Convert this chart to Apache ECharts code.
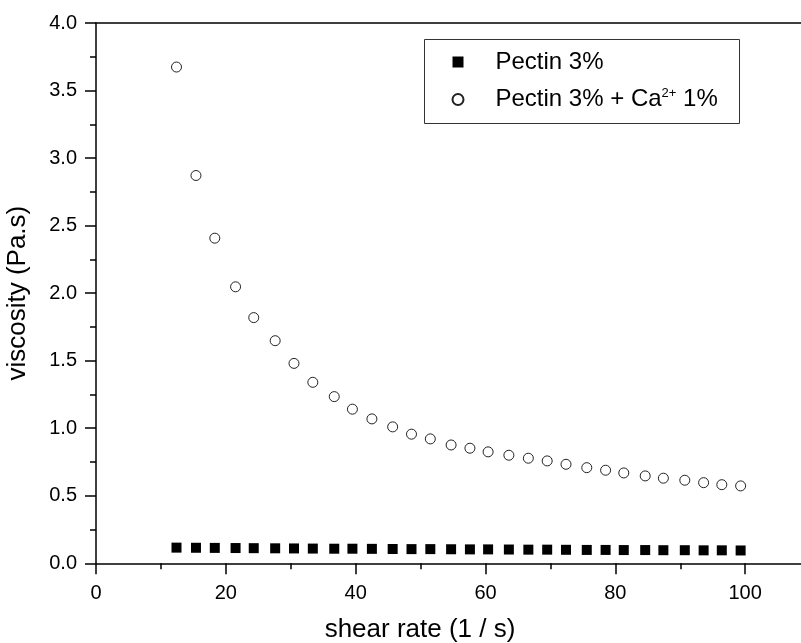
<!DOCTYPE html>
<html>
<head>
<meta charset="utf-8">
<script src="https://cdn.jsdelivr.net/npm/echarts@6/dist/echarts.min.js"></script>
<style>html,body{margin:0;padding:0;background:#fff}#c{width:801px;height:643px}</style>
</head>
<body>
<div id="c"></div>
<script>
var shearRate = [12.4, 15.4, 18.3, 21.5, 24.3, 27.6, 30.5, 33.4, 36.7, 39.5, 42.5, 45.7, 48.6, 51.5, 54.7, 57.6, 60.4, 63.6, 66.6, 69.5, 72.4, 75.6, 78.5, 81.3, 84.6, 87.4, 90.7, 93.6, 96.4, 99.3];
var pectin = [0.116, 0.115, 0.114, 0.113, 0.112, 0.111, 0.110, 0.109, 0.108, 0.108, 0.107, 0.106, 0.105, 0.105, 0.104, 0.103, 0.103, 0.102, 0.101, 0.101, 0.100, 0.099, 0.099, 0.098, 0.098, 0.097, 0.097, 0.096, 0.096, 0.095];
var pectinCa = [3.674, 2.871, 2.407, 2.047, 1.819, 1.648, 1.480, 1.340, 1.234, 1.141, 1.069, 1.010, 0.956, 0.921, 0.876, 0.852, 0.825, 0.800, 0.778, 0.758, 0.733, 0.708, 0.689, 0.669, 0.647, 0.630, 0.615, 0.597, 0.582, 0.573];
var seriesNames = ['Pectin 3%', 'Pectin 3% + Ca2+ 1%'];
var xTicks = [0, 20, 40, 60, 80, 100];
var xMinorTicks = [10, 30, 50, 70, 90];

var font = 'Liberation Sans, Arial, sans-serif';
function pairs(xs, ys) { return xs.map(function (x, i) { return [x, ys[i]]; }); }

var X_MAX = 108.6;
var lineStyle = {color: '#000', width: 1.5};

var chart = echarts.init(document.getElementById('c'), null, {renderer: 'canvas'});
chart.setOption({
  animation: false,
  backgroundColor: '#fff',
  grid: {left: 96, top: 23, right: 0, height: 540.3, containLabel: false, outerBoundsMode: 'none'},
  graphic: [{
    type: 'rect', left: 424, top: 39, z: 5,
    shape: {width: 315, height: 84},
    style: {fill: '#fff', stroke: '#333', lineWidth: 1}
  }],
  legend: {
    left: 446.5, top: 45, orient: 'vertical', itemGap: 13, z: 10,
    itemWidth: 11, itemHeight: 11,
    data: [
      {name: seriesNames[0], icon: 'rect'},
      {name: seriesNames[1], icon: 'circle'}
    ],
    formatter: function (n) {
      if (n === seriesNames[1]) return '{a|Pectin 3% + Ca}{s|2+}{a| 1%}';
      return '{a|' + n + '}';
    },
    textStyle: {
      fontFamily: font, fontSize: 24, color: '#000', padding: [0, 0, 0, 27],
      rich: {
        a: {fontFamily: font, fontSize: 24, lineHeight: 24, color: '#000'},
        s: {fontFamily: font, fontSize: 13, lineHeight: 24, color: '#000', padding: [0, 0, 12, 0]}
      }
    }
  },
  xAxis: [{
    type: 'value', min: 0, max: X_MAX,
    position: 'bottom',
    name: 'shear rate (1 / s)', nameLocation: 'middle', nameGap: 54,
    nameTextStyle: {fontFamily: font, fontSize: 26, color: '#000', padding: [0, 57, 0, 0]},
    axisLine: {show: true, onZero: false, lineStyle: lineStyle},
    axisTick: {show: true, inside: false, length: 11, customValues: xTicks, lineStyle: lineStyle},
    axisLabel: {fontFamily: font, fontSize: 20, color: '#000', margin: 20, customValues: xTicks},
    splitLine: {show: false}
  }, {
    type: 'value', min: 0, max: X_MAX, position: 'bottom',
    axisLine: {show: false},
    axisTick: {show: true, inside: false, length: 6, customValues: xMinorTicks, lineStyle: lineStyle},
    axisLabel: {show: false}, splitLine: {show: false}
  }, {
    type: 'value', min: 0, max: X_MAX, position: 'top',
    axisLine: {show: true, onZero: false, lineStyle: lineStyle},
    axisTick: {show: false}, axisLabel: {show: false}, splitLine: {show: false}
  }],
  yAxis: {
    type: 'value', min: 0, max: 4, interval: 0.5,
    name: 'viscosity (Pa.s)', nameLocation: 'middle', nameGap: 65,
    nameTextStyle: {fontFamily: font, fontSize: 26, color: '#000'},
    axisLine: {show: true, onZero: false, lineStyle: lineStyle},
    axisTick: {show: true, inside: false, length: 11, lineStyle: lineStyle},
    minorTick: {show: true, splitNumber: 2, length: 6, lineStyle: lineStyle},
    axisLabel: {fontFamily: font, fontSize: 20, color: '#000', margin: 19,
      formatter: function (v) { return v.toFixed(1); }},
    splitLine: {show: false}
  },
  series: [{
    name: seriesNames[0], type: 'scatter', symbol: 'rect', symbolSize: 10,
    itemStyle: {color: '#000', opacity: 1},
    data: pairs(shearRate, pectin)
  }, {
    name: seriesNames[1], type: 'scatter', symbol: 'circle', symbolSize: 10,
    itemStyle: {color: '#fff', borderColor: '#222', borderWidth: 1, opacity: 1},
    data: pairs(shearRate, pectinCa)
  }]
});
</script>
</body>
</html>
